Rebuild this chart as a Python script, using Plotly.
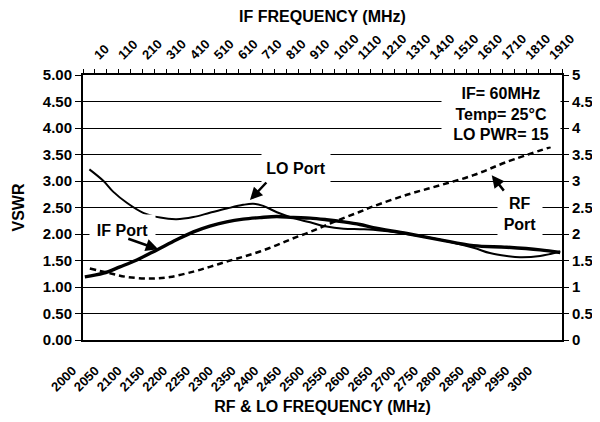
import plotly.graph_objects as go

# ---------------- data ----------------
rf_ticks = list(range(2000, 3001, 50))
rf_tick_text = [str(v) for v in rf_ticks]
if_ticks = list(range(10, 1911, 100))
if_tick_text = [str(v) for v in if_ticks]
vswr_ticks = [0, 0.5, 1, 1.5, 2, 2.5, 3, 3.5, 4, 4.5, 5]
vswr_right_text = ["0", "0.5", "1", "1.5", "2", "2.5", "3", "3.5", "4", "4.5", "5"]

lo_rf = [1989, 2020, 2041, 2071, 2107, 2144, 2180, 2217, 2253, 2290, 2326, 2348,
         2370, 2400, 2436, 2473, 2509, 2546, 2582, 2611, 2685, 2758, 2831, 2867,
         2904, 2933, 2977, 3021]
lo_vswr = [3.22, 3.00, 2.80, 2.59, 2.40, 2.31, 2.28, 2.32, 2.40, 2.48, 2.55, 2.57,
           2.53, 2.41, 2.30, 2.22, 2.14, 2.10, 2.09, 2.08, 2.00, 1.89, 1.74, 1.64,
           1.585, 1.56, 1.585, 1.67]

if_rf = [1979, 2020, 2056, 2093, 2137, 2180, 2217, 2253, 2290, 2326, 2363, 2400,
         2436, 2473, 2509, 2546, 2582, 2611, 2685, 2758, 2831, 2904, 2977, 3021]
if_vswr = [1.19, 1.26, 1.38, 1.51, 1.70, 1.89, 2.04, 2.15, 2.23, 2.28, 2.31, 2.33,
           2.31, 2.30, 2.27, 2.23, 2.18, 2.12, 2.01, 1.89, 1.78, 1.75, 1.70, 1.65]

rfp_rf = [1990, 2034, 2071, 2122, 2166, 2217, 2253, 2290, 2326, 2363, 2400, 2436,
          2473, 2509, 2546, 2582, 2611, 2685, 2758, 2831, 2904, 3000]
rfp_vswr = [1.35, 1.26, 1.19, 1.16, 1.19, 1.29, 1.38, 1.48, 1.57, 1.67, 1.79, 1.92,
            2.04, 2.17, 2.30, 2.42, 2.52, 2.74, 2.92, 3.11, 3.36, 3.64]

# ---------------- figure ----------------
FONT = "Liberation Sans, Arial, sans-serif"
fig = go.Figure()

fig.add_trace(go.Scatter(x=rfp_rf, y=rfp_vswr, mode="lines", name="RF Port",
                         line=dict(color="black", width=2.5, dash="6px,4px"),
                         line_shape="spline"))
fig.add_trace(go.Scatter(x=lo_rf, y=lo_vswr, mode="lines", name="LO Port",
                         line=dict(color="black", width=2), line_shape="spline"))
fig.add_trace(go.Scatter(x=if_rf, y=if_vswr, mode="lines", name="IF Port",
                         line=dict(color="black", width=3.4), line_shape="spline"))
# invisible trace to bind the secondary (IF / right) axes
fig.add_trace(go.Scatter(x=if_ticks, y=[None] * len(if_ticks), xaxis="x2", yaxis="y2",
                         mode="lines", hoverinfo="skip", showlegend=False))

fig.update_layout(
    width=592, height=414,
    margin=dict(l=75, r=38, t=67, b=82, autoexpand=False),
    paper_bgcolor="white", plot_bgcolor="white",
    showlegend=False,
    font=dict(family=FONT, color="black", size=16, weight="bold"),
    xaxis=dict(range=[1975, 3025], tickmode="array", tickvals=rf_ticks, ticktext=rf_tick_text,
               tickangle=-45, ticks="", showgrid=False, zeroline=False, automargin=False,
               showline=True, linecolor="black", linewidth=2,
               tickfont=dict(size=13, weight="bold"),
               ticklabelstandoff=16, ticklabelshift=-22,
               title=dict(text="RF & LO FREQUENCY (MHz)", font=dict(size=16, weight="bold"), standoff=8)),
    xaxis2=dict(overlaying="x", side="top", anchor="y", range=[-40, 1960], automargin=False,
                tickmode="array", tickvals=if_ticks, ticktext=if_tick_text,
                tickangle=-45, ticks="outside", ticklen=4, tickwidth=1, tickcolor="black",
                minor=dict(ticks="outside", ticklen=4, tickwidth=1, tickcolor="black",
                           tick0=-40, dtick=50),
                showgrid=False, zeroline=False, showline=True, linecolor="black", linewidth=1.5,
                tickfont=dict(size=13, weight="bold"),
                ticklabelstandoff=2,
                title=dict(text="IF FREQUENCY (MHz)", font=dict(size=16, weight="bold"), standoff=6)),
    yaxis=dict(range=[0, 5], tickmode="array", tickvals=vswr_ticks, tickformat=".2f",
               ticks="outside", ticklen=6, tickcolor="black", tickwidth=1, automargin=False,
               showgrid=True, gridcolor="black", gridwidth=1, zeroline=False,
               showline=True, linecolor="black", linewidth=2,
               tickfont=dict(size=15, weight="bold"),
               title=dict(text="VSWR", font=dict(size=16, weight="bold"), standoff=14)),
    yaxis2=dict(overlaying="y", side="right", anchor="x", range=[0, 5], tickmode="array",
                tickvals=vswr_ticks, ticktext=vswr_right_text, automargin=False,
                ticks="outside", ticklen=5, tickcolor="black", tickwidth=1,
                showgrid=False, zeroline=False, showline=True, linecolor="black", linewidth=2,
                tickfont=dict(size=15, weight="bold")),
)

ann_font = dict(family=FONT, size=16, color="black", weight="bold")

# text labels (white boxes interrupt the gridlines)
fig.add_annotation(x=2442, y=3.25, xref="x", yref="y", text="LO Port", showarrow=False,
                   font=ann_font, bgcolor="white", width=62, height=24, borderpad=3)
fig.add_annotation(x=2061, y=2.08, xref="x", yref="y", text="IF Port", showarrow=False,
                   font=ann_font, bgcolor="white", width=59, height=24, borderpad=3)
fig.add_annotation(x=2891, y=4.27, xref="x", yref="y",
                   text="IF= 60MHz<br>Temp= 25°C<br>LO PWR= 15", showarrow=False,
                   font=ann_font, bgcolor="white", width=112, height=58, borderpad=3)
fig.add_annotation(x=2933, y=2.38, xref="x", yref="y", text="RF<br>Port", showarrow=False,
                   font=ann_font, bgcolor="white", width=40, height=44, borderpad=2)

# arrows (head at x,y ; tail at ax,ay)
arrow = dict(showarrow=True, text="", arrowhead=2, arrowsize=1, arrowwidth=2.5,
             arrowcolor="black", xref="x", yref="y", axref="x", ayref="y", standoff=0)
fig.add_annotation(x=2341, y=2.64, ax=2380, ay=3.0, **arrow)
fig.add_annotation(x=2140, y=1.71, ax=2071, ay=1.92, **arrow)
fig.add_annotation(x=2871, y=3.11, ax=2900, ay=2.79, **arrow)

fig.write_html("out.html")
